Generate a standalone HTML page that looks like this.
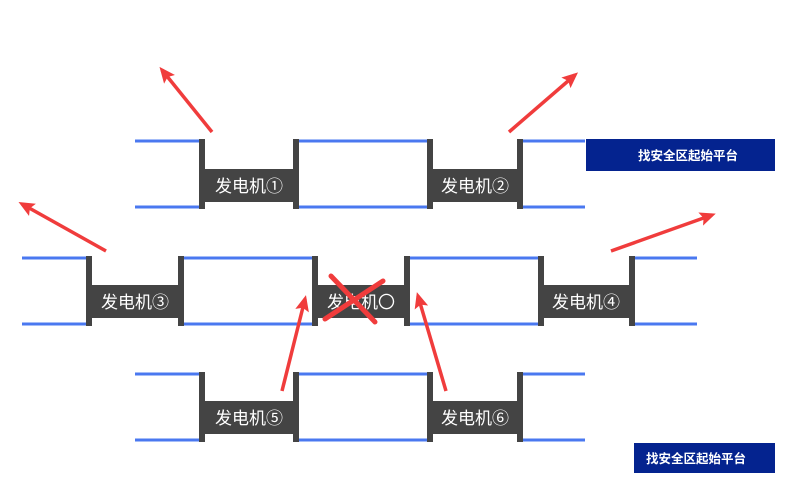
<!DOCTYPE html>
<html><head><meta charset="utf-8"><style>
html,body{margin:0;padding:0;background:#fff;width:795px;height:479px;overflow:hidden}
text{font-family:"Liberation Sans","Noto Sans CJK SC",sans-serif}
</style></head><body>
<svg width="795" height="479" xmlns="http://www.w3.org/2000/svg">
<defs>
<marker id="ah" markerWidth="16" markerHeight="14" refX="12" refY="7" orient="auto" markerUnits="userSpaceOnUse" viewBox="0 0 16 14"><path d="M0,0 L16,7 L0,14 L3,7 z" fill="#f03c3c"/></marker>
</defs>
<g stroke="#4a78f0" stroke-width="3">
<line x1="135" y1="141" x2="199" y2="141"/><line x1="135" y1="207" x2="199" y2="207"/>
<line x1="299" y1="141" x2="427" y2="141"/><line x1="299" y1="207" x2="427" y2="207"/>
<line x1="523" y1="141" x2="585" y2="141"/><line x1="523" y1="207" x2="585" y2="207"/>
<line x1="22" y1="258" x2="86" y2="258"/><line x1="22" y1="324" x2="86" y2="324"/>
<line x1="184" y1="258" x2="312" y2="258"/><line x1="184" y1="324" x2="312" y2="324"/>
<line x1="410" y1="258" x2="538" y2="258"/><line x1="410" y1="324" x2="538" y2="324"/>
<line x1="635" y1="258" x2="697" y2="258"/><line x1="635" y1="324" x2="697" y2="324"/>
<line x1="135" y1="374" x2="199" y2="374"/><line x1="135" y1="440" x2="199" y2="440"/>
<line x1="299" y1="374" x2="427" y2="374"/><line x1="299" y1="440" x2="427" y2="440"/>
<line x1="523" y1="374" x2="585" y2="374"/><line x1="523" y1="440" x2="585" y2="440"/>
</g>
<g fill="#444">
<rect x="199" y="139" width="6" height="70"/><rect x="293" y="139" width="6" height="70"/><rect x="199" y="169" width="100" height="33"/>
<rect x="427" y="139" width="6" height="70"/><rect x="517" y="139" width="6" height="70"/><rect x="427" y="169" width="96" height="33"/>
<rect x="86" y="256" width="6" height="70"/><rect x="178" y="256" width="6" height="70"/><rect x="86" y="285" width="98" height="33"/>
<rect x="312" y="256" width="6" height="70"/><rect x="404" y="256" width="6" height="70"/><rect x="312" y="285" width="98" height="33"/>
<rect x="538" y="256" width="6" height="70"/><rect x="629" y="256" width="6" height="70"/><rect x="538" y="285" width="97" height="33"/>
<rect x="199" y="372" width="6" height="70"/><rect x="293" y="372" width="6" height="70"/><rect x="199" y="401" width="100" height="33"/>
<rect x="427" y="372" width="6" height="70"/><rect x="517" y="372" width="6" height="70"/><rect x="427" y="401" width="96" height="33"/>
</g>
<g fill="#fff" font-size="17" text-anchor="middle">
<text x="249" y="192">发电机①</text>
<text x="475" y="192">发电机②</text>
<text x="135" y="308">发电机③</text>
<text x="361" y="308">发电机〇</text>
<text x="586" y="308">发电机④</text>
<text x="249" y="424">发电机⑤</text>
<text x="475" y="424">发电机⑥</text>
</g>
<rect x="586" y="139" width="189" height="32" fill="#04238f"/>
<text x="638" y="160" fill="#fff" font-size="12.5" font-weight="bold">找安全区起始平台</text>
<rect x="634" y="443" width="141" height="30" fill="#04238f"/>
<text x="646" y="463" fill="#fff" font-size="12.5" font-weight="bold">找安全区起始平台</text>
<g stroke="#f03c3c" stroke-width="3.5" marker-end="url(#ah)" fill="none">
<line x1="212" y1="132" x2="162" y2="70"/>
<line x1="509" y1="132" x2="575" y2="75"/>
<line x1="106" y1="251" x2="22" y2="204"/>
<line x1="611" y1="251" x2="712" y2="215"/>
<line x1="282" y1="391" x2="305" y2="299"/>
<line x1="446" y1="391" x2="418" y2="296"/>
</g>
<g stroke="#f03c3c" stroke-width="5" stroke-linecap="round">
<line x1="331" y1="276" x2="375" y2="322"/>
<line x1="325" y1="319" x2="383" y2="281"/>
</g>
</svg>
</body></html>
